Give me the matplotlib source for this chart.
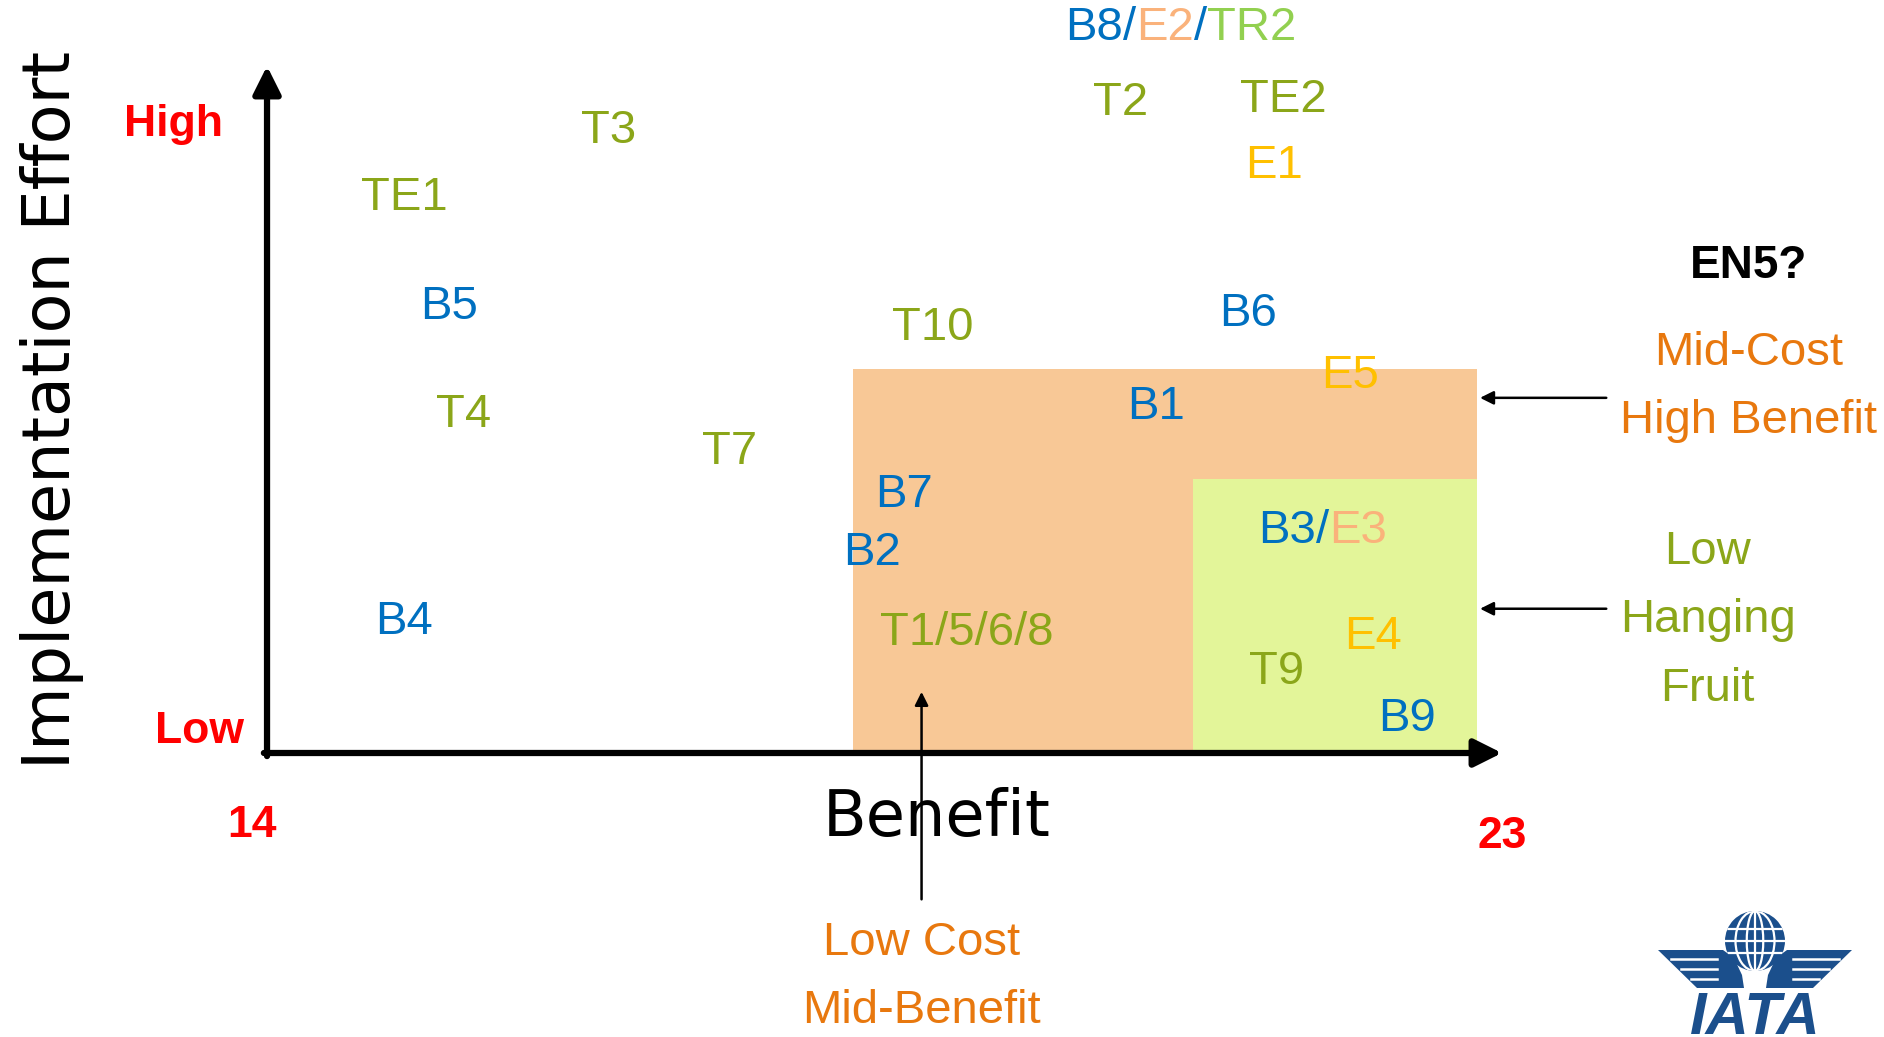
import matplotlib
matplotlib.use('Agg')
import matplotlib.pyplot as plt
from matplotlib.patches import Rectangle, Circle, Polygon, Ellipse
from matplotlib.offsetbox import TextArea, HPacker, AnnotationBbox

plt.rcParams['font.family'] = ['Liberation Sans', 'DejaVu Sans']

# measure labels: benefit (x) vs implementation effort (y)
labels = ['B8/E2/TR2', 'T2', 'TE2', 'E1', 'T3', 'TE1', 'B5', 'T10', 'B6', 'E5', 'B1',
          'T4', 'T7', 'B7', 'B2', 'B3/E3', 'B4', 'T1/5/6/8', 'E4', 'T9', 'B9']
benefit = [20.66, 20.22, 21.41, 21.34, 16.49, 15.00, 15.33, 18.85, 21.15, 21.89, 20.48,
           15.43, 17.37, 18.64, 18.41, 21.69, 15.00, 19.10, 22.06, 21.36, 22.31]
effort = [10.55, 9.46, 9.51, 8.55, 9.06, 8.08, 6.49, 6.19, 6.39, 5.49, 5.03,
          4.92, 4.38, 3.76, 2.91, 3.23, 1.90, 1.75, 1.69, 1.18, 0.50]

# shaded zones
zone_names = ['Mid-Cost\nHigh Benefit', 'Low\nHanging\nFruit']
zone_benefit_from = [18.27, 20.75]
zone_benefit_to = [22.82, 22.82]
zone_effort_to = [5.59, 3.99]

benefit_min, benefit_max = 14, 23
effort_min, effort_max = 0, 10

BLUE = '#0070C0'
OLIVE = '#8BA619'
GOLD = '#FFC000'
PEACH = '#FAB27B'
LIME = '#92D050'
ORANGE = '#E8780E'
RED = '#FF0000'

single_colors = {'B': BLUE, 'T': OLIVE, 'E': GOLD}
combo_colors = {'B': BLUE, 'E': PEACH, 'TR': LIME}

fig = plt.figure(figsize=(18.84, 10.37), dpi=100)
ax = fig.add_axes([0, 0, 1, 1])
ax.set_xlim(12.054, 25.784)
ax.set_ylim(-4.134, 10.961)
ax.axis('off')

# zones
ax.add_patch(Rectangle((zone_benefit_from[0], effort_min),
                       zone_benefit_to[0] - zone_benefit_from[0], zone_effort_to[0],
                       facecolor='#F8C896', edgecolor='none', zorder=1))
ax.add_patch(Rectangle((zone_benefit_from[1], effort_min),
                       zone_benefit_to[1] - zone_benefit_from[1], zone_effort_to[1],
                       facecolor='#E3F599', edgecolor='none', zorder=1))

# axes arrows
ax.annotate('', xy=(benefit_max, effort_min), xytext=(benefit_min - 0.023, effort_min),
            arrowprops=dict(arrowstyle='-|>', color='black', lw=4.5, mutation_scale=42,
                            shrinkA=0, shrinkB=0), zorder=2)
ax.annotate('', xy=(benefit_min, effort_max), xytext=(benefit_min, effort_min - 0.045),
            arrowprops=dict(arrowstyle='-|>', color='black', lw=4.5, mutation_scale=42,
                            shrinkA=0, shrinkB=0), zorder=2)

fs = 34

# labels
for lab, x, y in zip(labels, benefit, effort):
    if '/' in lab and not lab.startswith('T1'):
        parts = lab.split('/')
        boxes = []
        for i, p in enumerate(parts):
            key = 'TR' if p.startswith('TR') else p[0]
            boxes.append(TextArea(p, textprops=dict(color=combo_colors[key], fontsize=fs)))
            if i < len(parts) - 1:
                boxes.append(TextArea('/', textprops=dict(color=BLUE, fontsize=fs)))
        pack = HPacker(children=boxes, align='baseline', pad=0, sep=0)
        ab = AnnotationBbox(pack, (x, y), frameon=False, pad=0, box_alignment=(0.5, 0.5), zorder=3)
        ax.add_artist(ab)
    else:
        ax.text(x, y, lab, color=single_colors[lab[0]], fontsize=fs,
                ha='center', va='center', zorder=3)

# axis titles and ends
ax.text(18.88, -0.95, 'Benefit', fontsize=46, family='DejaVu Sans', ha='center', va='center')
ax.text(12.43, 5.00, 'Implementation Effort', fontsize=47, family='DejaVu Sans',
        rotation=90, ha='center', va='center')
ax.text(13.32, 9.15, 'High', color=RED, fontsize=32, fontweight='bold', ha='center', va='center')
ax.text(13.51, 0.32, 'Low', color=RED, fontsize=32, fontweight='bold', ha='center', va='center')
ax.text(13.89, -1.06, str(benefit_min), color=RED, fontsize=32, fontweight='bold',
        ha='center', va='center')
ax.text(23.0, -1.22, str(benefit_max), color=RED, fontsize=32, fontweight='bold',
        ha='center', va='center')

# zone callouts
ax.text(24.80, 7.09, 'EN5?', fontsize=33, fontweight='bold', ha='center', va='center')
ax.text(24.80, 5.33, zone_names[0], color=ORANGE, fontsize=fs, ha='center', va='center',
        linespacing=1.72)
ax.text(24.50, 1.93, zone_names[1], color=OLIVE, fontsize=fs, ha='center', va='center',
        linespacing=1.72)
ax.text(18.77, -3.26, 'Low Cost\nMid-Benefit', color=ORANGE, fontsize=fs, ha='center',
        va='center', linespacing=1.72)

small = dict(arrowstyle='-|>', color='black', lw=1.8, mutation_scale=20, shrinkA=0, shrinkB=0)
ax.annotate('', xy=(22.84, 5.17), xytext=(23.76, 5.17), arrowprops=small)
ax.annotate('', xy=(22.84, 2.10), xytext=(23.76, 2.10), arrowprops=small)
ax.annotate('', xy=(18.77, 0.89), xytext=(18.77, -2.13), arrowprops=small, zorder=2)

# IATA logo (pixel coords, origin top-left)
lg = fig.add_axes([1650 / 1884, 0, 210 / 1884, 130 / 1037])
lg.set_xlim(1650, 1860)
lg.set_ylim(1037, 907)
lg.axis('off')
NAVY = '#1B4F8C'
cx, cy, r = 1755, 941, 30
globe = Circle((cx, cy), r, facecolor=NAVY, edgecolor='none')
lg.add_patch(globe)
for yy in (cy - 12, cy, cy + 12):
    ln, = lg.plot([cx - r, cx + r], [yy, yy], color='white', lw=1.6)
    ln.set_clip_path(globe)
ln, = lg.plot([cx, cx], [cy - r, cy + r], color='white', lw=1.6)
ln.set_clip_path(globe)
for w in (0.55, 1.3):
    e = Ellipse((cx, cy), w * r, 2 * r, facecolor='none', edgecolor='white', lw=1.6)
    lg.add_patch(e)
    e.set_clip_path(globe)
left_wing = [(1658, 950), (1723, 950), (1734, 958), (1742, 975), (1744, 988), (1697, 988)]
for side in (1, -1):
    pts = [(x if side == 1 else 2 * cx - x, y) for x, y in left_wing]
    lg.add_patch(Polygon(pts, closed=True, facecolor=NAVY, edgecolor='none'))
    for yy, x0 in ((959, 1671), (969, 1681), (979, 1691)):
        xs = [x0, 1717]
        if side == -1:
            xs = [2 * cx - v for v in xs]
        lg.plot(xs, [yy, yy], color='white', lw=1.8)
lg.text(cx, 1034, 'IATA', color=NAVY, fontsize=43, fontweight='bold', fontstyle='italic',
        ha='center', va='baseline')

fig.savefig('out.png', dpi=100)
